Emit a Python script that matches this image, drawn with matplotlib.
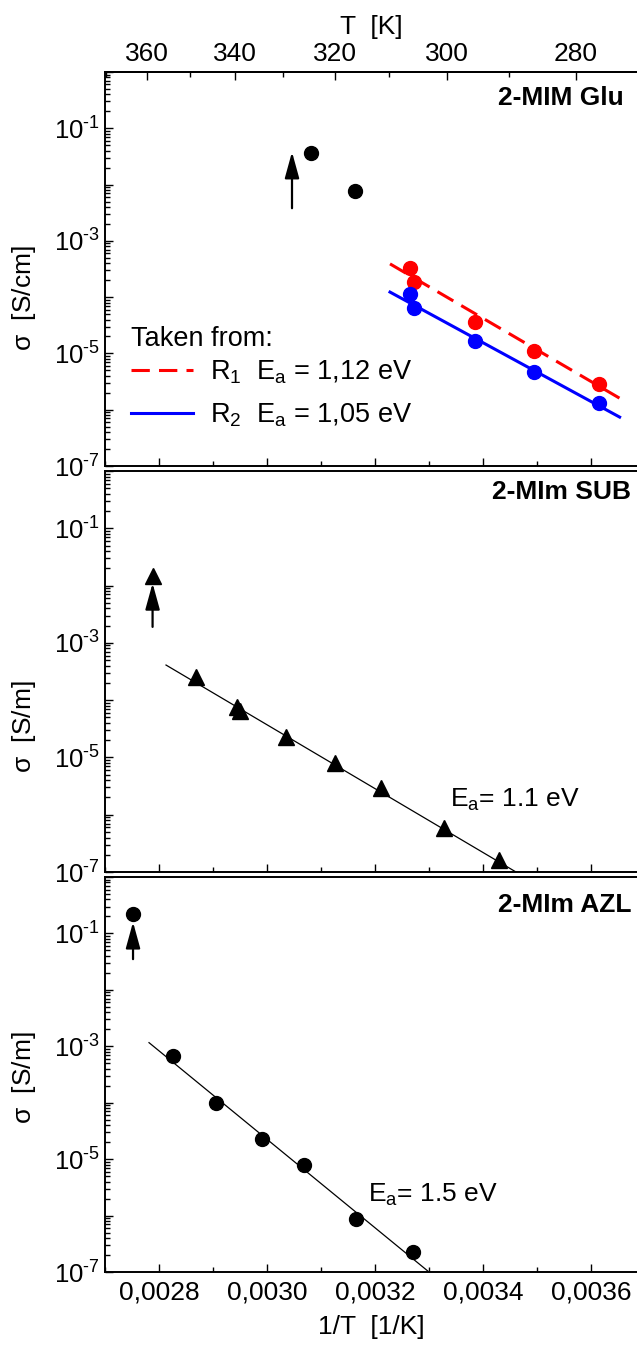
import numpy as np
import matplotlib
matplotlib.use('Agg')
import matplotlib.pyplot as plt
from matplotlib.ticker import MultipleLocator, LogLocator, FuncFormatter, FixedLocator, NullFormatter

plt.rcParams['font.family'] = ['Liberation Sans', 'DejaVu Sans']
plt.rcParams['mathtext.fontset'] = 'custom'
plt.rcParams['mathtext.rm'] = 'Liberation Sans'
plt.rcParams['mathtext.it'] = 'Liberation Sans:italic'
plt.rcParams['mathtext.default'] = 'regular'

# 2-MIM Glu (top panel)
glu_black_x = [0.0030815, 0.0031630]
glu_black_y = [3.6e-2, 7.7e-3]
glu_x = [0.0032648, 0.0032722, 0.0033852, 0.0034944, 0.0036148]
glu_r1 = [3.3e-4, 1.86e-4, 3.6e-5, 1.10e-5, 2.86e-6]
glu_r2 = [1.14e-4, 6.4e-5, 1.66e-5, 4.7e-6, 1.31e-6]
glu_fit_x = [0.0032278, 0.0036530]
glu_r1_fit = [3.9e-4, 1.6e-6]
glu_r2_fit = [1.23e-4, 7.4e-7]
glu_arrow_x = 0.0030463
glu_arrow_y = [3.8e-3, 3.8e-2]

# 2-MIm SUB (middle panel)
sub_x = [0.0028689, 0.0029450, 0.0029494, 0.0030350, 0.0031257, 0.0032107, 0.0033269, 0.0034294]
sub_y = [2.56e-4, 7.7e-5, 6.5e-5, 2.25e-5, 8.1e-6, 2.96e-6, 5.9e-7, 1.62e-7]
sub_fit_x = [0.0028130, 0.0034611]
sub_fit_y = [4.1e-4, 1.0e-7]
sub_top_x = [0.0027881]
sub_top_y = [1.47e-2]
sub_arrow_y = [1.9e-3, 1.1e-2]

# 2-MIm AZL (bottom panel)
azl_x = [0.0028257, 0.0029050, 0.0029907, 0.0030680, 0.0031650, 0.0032696]
azl_y = [6.8e-4, 1.0e-4, 2.25e-5, 7.9e-6, 8.6e-7, 2.3e-7]
azl_fit_x = [0.0027815, 0.0033000]
azl_fit_y = [1.16e-3, 1.0e-7]
azl_top_x = [0.0027519]
azl_top_y = [0.218]
azl_arrow_y = [3.5e-2, 0.159]

T_major = [360, 340, 320, 300, 280]
T_minor = [370, 350, 330, 310, 290, 270]

FS = 19

fig = plt.figure(figsize=(6.37, 13.45), dpi=100)
L, W = 105 / 637, 532 / 637
ax1 = fig.add_axes([L, 1 - 466 / 1345, W, 394 / 1345])
ax2 = fig.add_axes([L, 1 - 872 / 1345, W, 401 / 1345])
ax3 = fig.add_axes([L, 1 - 1272 / 1345, W, 395 / 1345])


def dec_fmt(v, pos):
    n = int(round(np.log10(v)))
    if n < 0 and n % 2:
        return r'$10^{\text{-}%d}$' % -n
    return ''


def comma_fmt(v, pos):
    return f'{v:.4f}'.replace('.', ',')


for ax in (ax1, ax2, ax3):
    ax.set_yscale('log')
    ax.set_ylim(1e-7, 1)
    ax.set_xlim(0.0027, 0.0027 + 532 / 540000)
    ax.spines['right'].set_visible(False)
    for s in ('left', 'bottom', 'top'):
        ax.spines[s].set_linewidth(1.4)
    ax.yaxis.set_major_locator(LogLocator(base=10, numticks=20))
    ax.yaxis.set_minor_locator(LogLocator(base=10, subs=np.arange(2, 10), numticks=20))
    ax.yaxis.set_major_formatter(FuncFormatter(dec_fmt))
    ax.yaxis.set_minor_formatter(NullFormatter())
    ax.xaxis.set_major_locator(MultipleLocator(0.0002))
    ax.xaxis.set_minor_locator(MultipleLocator(0.0001))
    ax.tick_params(which='both', direction='in', width=1.0, labelsize=FS,
                   top=False, right=False)
    ax.tick_params(which='major', length=6)
    ax.tick_params(which='minor', length=3.5)
    ax.tick_params(axis='y', labelsize=18.5)
    ax.tick_params(axis='x', labelbottom=False)

ax3.tick_params(axis='x', labelbottom=True, pad=6)
ax3.xaxis.set_major_formatter(FuncFormatter(comma_fmt))
ax3.set_xlabel('1/T  [1/K]', fontsize=FS, labelpad=8)


def inv(x):
    x = np.asarray(x, dtype=float)
    with np.errstate(divide='ignore'):
        return 1.0 / x


sec = ax1.secondary_xaxis('top', functions=(inv, inv))
sec.xaxis.set_major_locator(FixedLocator(T_major))
sec.xaxis.set_minor_locator(FixedLocator(T_minor))
sec.xaxis.set_major_formatter(FuncFormatter(lambda v, p: f'{v:.0f}'))
sec.tick_params(which='both', direction='in', width=1.0, labelsize=FS, pad=4)
sec.tick_params(which='major', length=6)
sec.tick_params(which='minor', length=3.5)
sec.spines['top'].set_linewidth(1.4)
sec.set_xlabel('T  [K]', fontsize=FS, labelpad=6)

arrow = dict(arrowstyle='-|>,head_length=0.8,head_width=0.22', lw=1.6,
             color='black', shrinkA=0, shrinkB=0, mutation_scale=20)

# top panel
ax1.plot(glu_black_x, glu_black_y, 'o', color='black', ms=10, zorder=3)
h1, = ax1.plot(glu_fit_x, glu_r1_fit, color='red', ls=(0, (6, 3)), lw=2.2,
               label=r'R$_1$  E$_a$ = 1,12 eV')
h2, = ax1.plot(glu_fit_x, glu_r2_fit, color='blue', lw=2.2,
               label=r'R$_2$  E$_a$ = 1,05 eV')
ax1.plot(glu_x, glu_r1, 'o', color='red', ms=10, zorder=3)
ax1.plot(glu_x, glu_r2, 'o', color='blue', ms=10, zorder=3)
ax1.annotate('', xy=(glu_arrow_x, glu_arrow_y[1]), xytext=(glu_arrow_x, glu_arrow_y[0]),
             arrowprops=arrow)
ax1.text(0.049, 0.322, 'Taken from:', transform=ax1.transAxes, fontsize=19.5,
         ha='left', va='center')
ax1.legend(handles=[h1, h2], loc='upper left',
           bbox_to_anchor=(0.049, 0.272), frameon=False, fontsize=19.5,
           handlelength=2.3, handletextpad=0.6, labelspacing=0.55,
           borderpad=0, borderaxespad=0)
ax1.text(0.739, 0.934, '2-MIM Glu', transform=ax1.transAxes, fontsize=19,
         fontweight='bold', ha='left', va='center')
ax1.set_ylabel(r'$\sigma$  [S/cm]', fontsize=FS)
ax1.yaxis.set_label_coords(-0.125, 0.426)

# middle panel
ax2.plot(sub_fit_x, sub_fit_y, color='black', lw=0.9)
ax2.plot(sub_x, sub_y, '^', color='black', ms=11, zorder=3)
ax2.plot(sub_top_x, sub_top_y, '^', color='black', ms=11, zorder=3)
ax2.annotate('', xy=(sub_top_x[0], sub_arrow_y[1]), xytext=(sub_top_x[0], sub_arrow_y[0]),
             arrowprops=arrow)
ax2.text(0.648, 0.18, r'E$_a$= 1.1 eV', transform=ax2.transAxes, fontsize=19,
         ha='left', va='center')
ax2.text(0.728, 0.948, '2-MIm SUB', transform=ax2.transAxes, fontsize=19,
         fontweight='bold', ha='left', va='center')
ax2.set_ylabel(r'$\sigma$  [S/m]', fontsize=FS)
ax2.yaxis.set_label_coords(-0.125, 0.362)

# bottom panel
ax3.plot(azl_fit_x, azl_fit_y, color='black', lw=0.9)
ax3.plot(azl_x, azl_y, 'o', color='black', ms=10, zorder=3)
ax3.plot(azl_top_x, azl_top_y, 'o', color='black', ms=10, zorder=3)
ax3.annotate('', xy=(azl_top_x[0], azl_arrow_y[1]), xytext=(azl_top_x[0], azl_arrow_y[0]),
             arrowprops=arrow)
ax3.text(0.494, 0.195, r'E$_a$= 1.5 eV', transform=ax3.transAxes, fontsize=19,
         ha='left', va='center')
ax3.text(0.738, 0.929, '2-MIm AZL', transform=ax3.transAxes, fontsize=19,
         fontweight='bold', ha='left', va='center')
ax3.set_ylabel(r'$\sigma$  [S/m]', fontsize=FS)
ax3.yaxis.set_label_coords(-0.125, 0.491)

fig.savefig('out.png', dpi=100)
